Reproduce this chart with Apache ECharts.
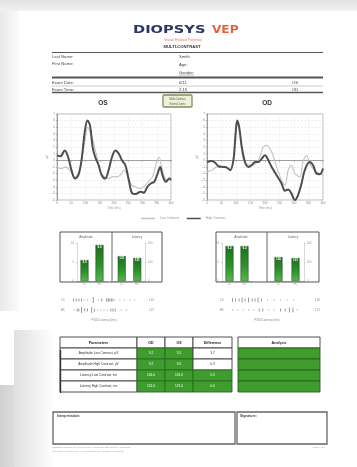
<!DOCTYPE html>
<html>
<head>
<meta charset="utf-8">
<script src="https://cdn.jsdelivr.net/npm/echarts@6/dist/echarts.min.js"></script>
<style>
html,body{margin:0;padding:0;background:#fff}
#c{width:357px;height:467px}
</style>
</head>
<body>
<div id="c"></div>
<script>
// VEP waveforms: [time ms, amplitude µV]
const osHigh = [[0,0.75],[12,0.6],[27,1.5],[39,0.5],[51,-1.5],[63,-2.75],[75,-2.25],[86,0.0],[98,4.5],[107,6.0],[116,5.25],[125,2.0],[134,0.5],[146,-0.75],[157,-2.25],[169,-2.75],[181,-1.5],[193,0.5],[205,1.5],[217,1.0],[228,0.0],[240,-0.75],[252,-3.0],[264,-5.0],[276,-5.1],[293,-4.75],[305,-4.9],[317,-4.0],[329,-3.5],[341,-3.25],[353,-2.0],[362,-1.0],[370,-2.25],[382,-3.25],[394,-2.75],[400,-3.0]];
const osLow = [[0,-1.0],[15,-1.25],[30,-1.0],[45,-1.5],[60,-2.5],[75,-2.0],[88,0.5],[100,3.5],[108,5.0],[118,4.0],[128,2.75],[140,0.5],[155,-2.0],[168,-2.5],[180,-2.75],[195,-2.5],[210,-2.5],[222,-2.25],[235,-1.5],[250,-2.5],[262,-3.75],[275,-4.0],[290,-4.25],[305,-4.0],[320,-3.25],[335,-2.5],[348,-0.5],[358,0.5],[370,-1.5],[385,-3.0],[400,-2.5]];
const odHigh = [[0,-0.25],[17,-0.1],[29,-0.4],[40,-0.9],[57,-1.0],[69,-1.1],[80,-1.5],[91,0.0],[97,3.0],[104,6.0],[111,5.0],[120,2.0],[131,-0.25],[143,-1.0],[154,-0.75],[166,-0.25],[177,-0.25],[189,0.25],[200,0.75],[209,0.25],[223,-1.0],[240,-2.25],[257,-3.5],[269,-4.6],[280,-4.4],[291,-5.0],[303,-6.0],[314,-5.25],[326,-3.5],[337,-1.5],[354,-0.25],[366,-0.75],[377,-2.0],[389,-2.1],[400,-1.25]];
const odLow = [[0,-1.75],[17,-1.5],[34,-1.0],[57,-1.0],[80,-1.4],[91,0.25],[103,5.5],[111,4.75],[120,1.5],[131,-0.5],[154,-0.75],[177,0.0],[194,2.0],[206,2.25],[223,1.25],[240,-1.0],[257,-3.0],[269,-3.75],[280,-1.5],[291,-0.75],[303,-2.0],[320,-2.5],[331,-0.25],[343,0.75],[354,-0.5],[371,-1.5],[389,-2.0],[400,-2.25]];

// Bar summaries per eye
const barCats = ['LC', 'HC'];
const osAmp = [5.5, 9.5];
const osLat = [131, 121];
const odAmp = [9.2, 9.2];
const odLat = [126, 121];

// Latency scale rows: [ms, row, mark height]
const osScale = [[61,0,3],[66,0,3],[71,0,3],[76,0,3],[81,0,1],[87,0,1],[98,0,6],[107,0,1],[114,0,3],[123,0,3],[126,0,4],[129,0,3],[132,0,3],[135,0,3],[139,0,1],[148,0,1],[157,0,1],[167,0,1],[176,0,1],
                 [62,1,1],[68,1,3],[71,1,3],[76,1,6],[82,1,3],[87,1,3],[95,1,6],[100,1,3],[106,1,1],[112,1,1],[118,1,1],[124,1,1],[131,1,3],[135,1,3],[139,1,3],[150,1,1],[160,1,1]];
const odScale = [[61,0,4],[66,0,3],[72,0,3],[77,0,5],[82,0,3],[88,0,5],[94,0,3],[99,0,3],[104,0,5],[110,0,3],[120,0,1],[131,0,1],[142,0,1],[153,0,1],[164,0,1],
                 [61,1,1],[70,1,1],[79,1,1],[88,1,1],[97,1,1],[106,1,3],[112,1,3],[122,1,1],[131,1,1],[142,1,3],[150,1,3],[157,1,5],[163,1,5],[170,1,1]];
const osScaleLabels = ['LC', 'HC'];
const osScaleValues = ['131', '121'];
const odScaleValues = ['126', '121'];

// Summary table
const tableHeaders = ['Parameters', 'OD', 'OS', 'Difference'];
const tableRows = ['Amplitude Low Contrast, µV', 'Amplitude High Contrast, µV', 'Latency Low Contrast, ms', 'Latency High Contrast, ms'];
const odValues = ['9.2', '9.2', '126.0', '121.0'];
const osValues = ['5.5', '9.5', '131.0', '121.0'];
const diffValues = ['3.7', '0.3', '5.0', '0.0'];
const diffInRange = [false, false, true, true];
const analysisHeader = 'Analysis';

const GREEN = '#3f9d2e';
const FONT = '"Liberation Sans", Arial, sans-serif';
const LOW_COLOR = '#c2c2c2', HIGH_COLOR = '#4e4e4e';

const chart = echarts.init(document.getElementById('c'), null, {renderer: 'canvas'});

const grid = [], xAxis = [], yAxis = [], series = [];

// ---- waveform panels ----
function wavePanel(box, low, high) {
  const gi = grid.length;
  grid.push(Object.assign({show: true, borderColor: '#a8a8a8', borderWidth: 0.8, backgroundColor: 'transparent'}, box));
  xAxis.push({gridIndex: gi, type: 'value', min: 0, max: 400, interval: 50,
    axisLine: {lineStyle: {color: '#8a8a8a', width: 0.8}}, axisTick: {length: 1.5, lineStyle: {color: '#8a8a8a', width: 0.6}},
    axisLabel: {fontSize: 3, color: '#888', margin: 2, fontFamily: FONT},
    splitLine: {show: true, lineStyle: {color: '#ececec', width: 0.6, type: 'dashed'}},
    name: 'Time (ms)', nameLocation: 'middle', nameGap: 7, nameTextStyle: {fontSize: 3, color: '#999', fontFamily: FONT}});
  const yi = yAxis.length;
  yAxis.push({gridIndex: gi, type: 'value', min: -6, max: 7, interval: 1,
    axisLine: {show: true, lineStyle: {color: '#8a8a8a', width: 0.8}}, axisTick: {length: 1.2, lineStyle: {color: '#8a8a8a', width: 0.6}},
    axisLabel: {fontSize: 3, color: '#888', margin: 2, fontFamily: FONT},
    splitLine: {show: true, lineStyle: {color: '#e4e4e4', width: 0.6, type: 'dashed'}},
    name: 'µV', nameLocation: 'middle', nameGap: 8, nameRotate: 90, nameTextStyle: {fontSize: 3, color: '#999', fontFamily: FONT}});
  series.push({type: 'line', name: 'Low Contrast', xAxisIndex: xAxis.length - 1, yAxisIndex: yi, data: low, smooth: 0.35,
    symbol: 'none', itemStyle: {color: LOW_COLOR}, lineStyle: {color: LOW_COLOR, width: 1.1}, z: 3});
  series.push({type: 'line', name: 'High Contrast', xAxisIndex: xAxis.length - 1, yAxisIndex: yi, data: high, smooth: 0.35,
    symbol: 'none', itemStyle: {color: HIGH_COLOR}, lineStyle: {color: HIGH_COLOR, width: 2}, z: 4});
}
wavePanel({left: 57, top: 114, width: 114, height: 86}, osLow, osHigh);
wavePanel({left: 207, top: 114, width: 116, height: 86}, odLow, odHigh);

// ---- bar panes ----
const barGradient = new echarts.graphic.LinearGradient(0, 0, 0, 1, [
  {offset: 0, color: '#1f6f1f'}, {offset: 0.55, color: '#2f8f2b'}, {offset: 1, color: '#57b54a'}]);
function barPane(box, values, max, interval, side) {
  const gi = grid.length;
  grid.push(box);
  xAxis.push({gridIndex: gi, type: 'category', data: barCats,
    axisLine: {lineStyle: {color: '#9a9a9a', width: 0.6}}, axisTick: {show: false},
    axisLabel: {fontSize: 2.8, color: '#999', margin: 1.5, fontFamily: FONT}});
  yAxis.push({gridIndex: gi, type: 'value', min: 0, max: max, interval: interval, position: side,
    axisLine: {show: true, lineStyle: {color: '#c0c0c0', width: 0.6}}, axisTick: {show: true, length: 1, lineStyle: {color: '#c0c0c0'}},
    axisLabel: {fontSize: 2.8, color: '#999', margin: 3, fontFamily: FONT}, splitLine: {show: false}});
  series.push({type: 'bar', xAxisIndex: xAxis.length - 1, yAxisIndex: yAxis.length - 1, data: values, barWidth: 8,
    itemStyle: {color: barGradient, borderColor: '#1a4f1a', borderWidth: 0.5},
    label: {show: true, position: 'insideTop', distance: 1, color: '#fff', fontSize: 3, fontFamily: FONT, fontWeight: 'bold'}});
}
barPane({left: 77, top: 243, width: 30, height: 38}, osAmp, 10, 5, 'left');
barPane({left: 114, top: 243, width: 31, height: 38}, osLat, 200, 100, 'right');
barPane({left: 222, top: 243, width: 30, height: 38}, odAmp, 10, 5, 'left');
barPane({left: 270, top: 243, width: 34, height: 38}, odLat, 200, 100, 'right');

// ---- latency scale rows ----
function scaleRows(box, points, leftLabels, rightLabels) {
  const gi = grid.length;
  grid.push(box);
  xAxis.push({gridIndex: gi, type: 'value', min: 60, max: 180, show: false});
  const yi = yAxis.length;
  yAxis.push({gridIndex: gi, type: 'category', data: leftLabels, inverse: true,
    axisLine: {show: false}, axisTick: {show: false}, axisLabel: {fontSize: 3, color: '#888', margin: 8, fontFamily: FONT}});
  yAxis.push({gridIndex: gi, type: 'category', data: rightLabels, inverse: true, position: 'right',
    axisLine: {show: false}, axisTick: {show: false}, axisLabel: {fontSize: 3, color: '#888', margin: 12, fontFamily: FONT}});
  series.push({type: 'scatter', xAxisIndex: xAxis.length - 1, yAxisIndex: yi, data: points,
    symbol: 'rect', symbolSize: v => [0.9, v[2]], itemStyle: {color: '#777'}});
}
scaleRows({left: 73, top: 295, width: 64, height: 20}, osScale, osScaleLabels, osScaleValues);
scaleRows({left: 232, top: 295, width: 71, height: 20}, odScale, osScaleLabels, odScaleValues);

// ---- tables ----
function tableRender(cells, edges) {
  return function (params, api) {
    const c = cells[params.dataIndex];
    const p0 = api.coord([edges[c.col], c.row]);
    const p1 = api.coord([edges[c.col + 1], c.row]);
    const h = api.size([0, 1])[1];
    return {type: 'group', children: [
      {type: 'rect', shape: {x: p0[0], y: p0[1] - h / 2, width: p1[0] - p0[0], height: h},
        style: {fill: c.fill, stroke: c.stroke, lineWidth: 0.9}},
      {type: 'text', style: {text: c.text, x: (p0[0] + p1[0]) / 2, y: p0[1], textAlign: 'center', textVerticalAlign: 'middle',
        fill: c.color, font: c.font}}
    ]};
  };
}
function tableGrid(box, width, cells, edges) {
  const gi = grid.length;
  grid.push(box);
  xAxis.push({gridIndex: gi, type: 'value', min: 0, max: width, show: false});
  yAxis.push({gridIndex: gi, type: 'category', data: ['0', '1', '2', '3', '4'], inverse: true, show: false});
  series.push({type: 'custom', xAxisIndex: xAxis.length - 1, yAxisIndex: yAxis.length - 1,
    data: cells.map(c => [c.col, c.row]), renderItem: tableRender(cells, edges), z: 3});
}
const headFont = 'bold 3.6px ' + FONT, cellFont = '3.2px ' + FONT;
const mainCells = [];
tableHeaders.forEach((t, i) => mainCells.push({col: i, row: 0, text: t, fill: '#fff', stroke: '#3a3a3a', color: '#222', font: headFont}));
tableRows.forEach((t, r) => {
  mainCells.push({col: 0, row: r + 1, text: t, fill: '#fff', stroke: '#3a3a3a', color: '#333', font: cellFont});
  mainCells.push({col: 1, row: r + 1, text: odValues[r], fill: GREEN, stroke: '#2d6a22', color: '#fff', font: cellFont});
  mainCells.push({col: 2, row: r + 1, text: osValues[r], fill: GREEN, stroke: '#2d6a22', color: '#fff', font: cellFont});
  mainCells.push({col: 3, row: r + 1, text: diffValues[r], fill: diffInRange[r] ? GREEN : '#fff',
    stroke: diffInRange[r] ? '#2d6a22' : '#3a3a3a', color: diffInRange[r] ? '#fff' : '#333', font: cellFont});
});
tableGrid({left: 60, top: 337, width: 172, height: 55}, 172, mainCells, [0, 77, 105, 133, 172]);
const sideCells = [{col: 0, row: 0, text: analysisHeader, fill: '#fff', stroke: '#3a3a3a', color: '#222', font: headFont}];
tableRows.forEach((t, r) => sideCells.push({col: 0, row: r + 1, text: '', fill: GREEN, stroke: '#2a5f20', color: '#fff', font: cellFont}));
tableGrid({left: 238, top: 337, width: 82, height: 55}, 82, sideCells, [0, 82]);

// ---- page furniture ----
function txt(x, y, text, o) {
  o = o || {};
  return {type: 'text', x: x, y: y, scaleX: o.sx || 1, z: 10,
    style: {text: text, x: 0, y: 0, fill: o.color || '#444', textAlign: o.align || 'left', textVerticalAlign: 'middle',
      font: (o.weight || 'normal') + ' ' + (o.size || 4.2) + 'px ' + (o.family || FONT)}};
}
function hline(x1, x2, y, w, c) {
  return {type: 'line', z: 10, shape: {x1: x1, y1: y, x2: x2, y2: y}, style: {stroke: c || '#555', lineWidth: w || 1}};
}
function box(x, y, w, h, o) {
  o = o || {};
  return {type: 'rect', z: o.z || 1, shape: {x: x, y: y, width: w, height: h, r: o.r || 0},
    style: {fill: o.fill || 'none', stroke: o.stroke || 'none', lineWidth: o.lw || 1}};
}
const lg = (x0, y0, x1, y1, a, b) => new echarts.graphic.LinearGradient(x0, y0, x1, y1, [{offset: 0, color: a}, {offset: 1, color: b}]);

const elements = [
  // paper surroundings
  box(0, 0, 357, 11, {fill: lg(0, 0, 0, 1, '#e3e3e3', '#f1f1f1'), z: -5}),
  box(0, 11, 19, 300, {fill: lg(0, 0, 1, 0, '#e9e9e9', '#fbfbfb'), z: -5}),
  box(14, 330, 40, 137, {fill: lg(0, 0, 1, 0, '#e0e0e0', '#ffffff'), z: -5}),
  box(0, 385, 14, 82, {fill: lg(0, 0, 1, 0, '#d0d0d0', '#dcdcdc'), z: -5}),

  // logo and titles
  txt(133, 30, 'DIOPSYS', {size: 11, weight: 'bold', color: '#2a3466', sx: 1.33, family: '"DejaVu Sans", sans-serif'}),
  txt(212, 30, 'VEP', {size: 11, weight: 'bold', color: '#e5603f', sx: 1.1, family: '"DejaVu Sans", sans-serif'}),
  txt(183, 39.5, 'Visual Evoked Potential', {size: 3.6, color: '#e07a5a', align: 'center'}),
  txt(182, 46.5, 'MULTI-CONTRAST', {size: 4.2, color: '#333', align: 'center', weight: 'bold'}),
  hline(52, 323, 52.5, 1.2, '#555'),

  // patient fields
  txt(52, 57, 'Last Name:', {}),
  txt(52, 64, 'First Name:', {}),
  txt(179, 57, 'Smith', {}),
  txt(179, 65, 'Age:', {}),
  txt(179, 72.5, 'Gender:', {}),
  hline(179, 194, 75, 0.5, '#777'),
  hline(52, 323, 77.5, 2, '#555'),
  txt(52, 82.5, 'Exam Date:', {}),
  txt(179, 82.5, '6/11', {}),
  txt(292, 82.5, 'OS', {}),
  hline(52, 323, 86, 0.5, '#999'),
  txt(52, 89.5, 'Exam Time:', {}),
  txt(179, 89.5, '2:15', {}),
  txt(292, 89.5, 'OD', {}),
  hline(52, 323, 92.5, 1.4, '#555'),

  // eye headings and status box
  txt(103, 103, 'OS', {size: 6.5, weight: 'bold', color: '#333', align: 'center'}),
  txt(267, 103, 'OD', {size: 6.5, weight: 'bold', color: '#333', align: 'center'}),
  box(163, 95, 29, 12, {fill: '#edf2d8', stroke: '#7f8f5c', lw: 1.3, r: 1, z: 10}),
  txt(177.5, 99, 'Multi-Contrast', {size: 2.6, color: '#555', align: 'center'}),
  txt(177.5, 104, 'Normal Limits', {size: 2.6, color: '#555', align: 'center'}),

  // bar panel frames
  box(60, 232, 102, 50, {stroke: '#555', lw: 1, z: 10}),
  {type: 'line', z: 10, shape: {x1: 112, y1: 232, x2: 112, y2: 282}, style: {stroke: '#555', lineWidth: 0.9}},
  txt(86, 237, 'Amplitude', {size: 3, color: '#666', align: 'center'}),
  txt(137, 237, 'Latency', {size: 3, color: '#666', align: 'center'}),
  box(216, 232, 103, 50, {stroke: '#555', lw: 1, z: 10}),
  {type: 'line', z: 10, shape: {x1: 267, y1: 232, x2: 267, y2: 282}, style: {stroke: '#555', lineWidth: 0.9}},
  txt(241, 237, 'Amplitude', {size: 3, color: '#666', align: 'center'}),
  txt(293, 237, 'Latency', {size: 3, color: '#666', align: 'center'}),

  // scale captions
  txt(104, 320, 'P100 Latency (ms)', {size: 3, color: '#888', align: 'center'}),
  txt(267, 320, 'P100 Latency (ms)', {size: 3, color: '#888', align: 'center'}),

  // table bracket
  {type: 'line', z: 10, shape: {x1: 60.5, y1: 350, x2: 60.5, y2: 393}, style: {stroke: '#333', lineWidth: 1.4}},

  // interpretation / signature
  box(53, 412, 182, 32, {stroke: '#666', lw: 1.3, z: 10}),
  box(237, 412, 90, 32, {stroke: '#666', lw: 1.3, z: 10}),
  txt(57, 416.5, 'Interpretation:', {size: 3.4, color: '#444', weight: 'bold'}),
  txt(240, 416.5, 'Signature:', {size: 3.4, color: '#444', weight: 'bold'}),
  txt(52, 447, 'Normative data are for reference only; results are interpreted by a clinician.', {size: 2.4, color: '#999'}),
  txt(52, 451, 'Copyright © Diopsys, Inc. All Rights Reserved. Software Version 3.0', {size: 2.4, color: '#999'}),
  txt(325, 447, 'Page 1 of 1', {size: 2.4, color: '#999', align: 'right'})
];

chart.setOption({
  backgroundColor: '#ffffff',
  animation: false,
  textStyle: {fontFamily: FONT},
  legend: {data: ['Low Contrast', 'High Contrast'], left: 136, top: 212, itemWidth: 14, itemHeight: 1.5, itemGap: 8,
    textStyle: {fontSize: 3.2, color: '#999'}, icon: 'rect'},
  grid: grid, xAxis: xAxis, yAxis: yAxis, series: series,
  graphic: {elements: elements}
});
</script>
</body>
</html>
